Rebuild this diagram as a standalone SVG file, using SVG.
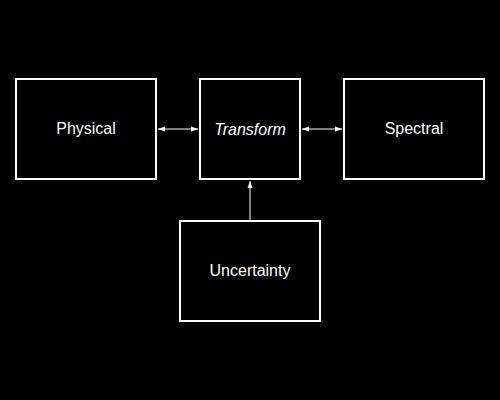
<svg xmlns="http://www.w3.org/2000/svg" width="500" height="400" viewBox="0 0 500 400">
<style>
.box{fill:#000;stroke:#fff;stroke-width:2}
.lbl{fill:#fff;font-family:"Liberation Sans",Arial,sans-serif;font-size:16px;text-anchor:middle}
.edge{stroke:#fff;stroke-width:1;fill:none}
</style>
<defs>
<marker id="ah" viewBox="0 0 10 10" refX="10" refY="5" markerWidth="7" markerHeight="7" orient="auto-start-reverse" markerUnits="userSpaceOnUse">
<path d="M0,1.5 L10,5 L0,8.5 z" fill="#fff"/>
</marker>
</defs>
<rect width="500" height="400" fill="#000"/>
<g id="connectors">
<line class="edge" x1="158" y1="129" x2="198" y2="129" marker-start="url(#ah)" marker-end="url(#ah)"/>
<line class="edge" x1="302" y1="129" x2="342" y2="129" marker-start="url(#ah)" marker-end="url(#ah)"/>
<line class="edge" x1="250" y1="220" x2="250" y2="181" marker-end="url(#ah)"/>
</g>
<g id="physical">
<rect class="box" x="16" y="79" width="140" height="100"/>
<text class="lbl" x="86" y="134">Physical</text>
</g>
<g id="transform">
<rect class="box" x="200" y="79" width="100" height="100"/>
<text class="lbl" x="250" y="135" font-style="italic">Transform</text>
</g>
<g id="spectral">
<rect class="box" x="344" y="79" width="140" height="100"/>
<text class="lbl" x="414" y="134">Spectral</text>
</g>
<g id="uncertainty">
<rect class="box" x="180" y="221" width="140" height="100"/>
<text class="lbl" x="250" y="276">Uncertainty</text>
</g>
</svg>
